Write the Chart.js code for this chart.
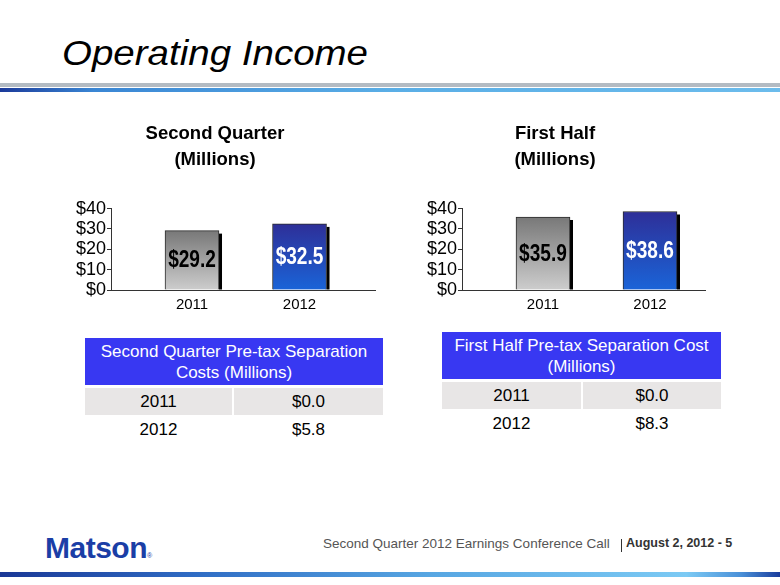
<!DOCTYPE html>
<html><head><meta charset="utf-8">
<script src="https://cdn.jsdelivr.net/npm/chart.js@4.4.0/dist/chart.umd.min.js"></script>
<style>
html,body{margin:0;padding:0;background:#fff;}
body{width:780px;height:585px;position:relative;overflow:hidden;font-family:'Liberation Sans',Arial,sans-serif;}
.abs{position:absolute;}
#title{left:62px;top:35px;font-size:35px;line-height:35px;font-style:italic;color:#000;transform:scaleX(1.1);transform-origin:0 0;white-space:nowrap;}
#grayline{left:0;top:83px;width:780px;height:4px;background:#b3bbc3;}
#blueline{left:0;top:88px;width:780px;height:4px;background:linear-gradient(to right,#1b3a9a 0%,#3a86d4 12%,#5aaee6 50%,#6cbcec 100%);}
#footline{left:0;top:572px;width:780px;height:5px;background:linear-gradient(to right,#1a3896 0%,#2f6cc4 25%,#57a6e2 55%,#7ccaf4 88%,#4a90d8 95%,#1a3c9c 100%);}
#logo{left:45px;top:533px;font-size:30px;line-height:30px;font-weight:bold;color:#1b3ea6;letter-spacing:-0.5px;white-space:nowrap;}
#logo sup{font-size:7px;font-weight:normal;vertical-align:baseline;position:relative;top:0;}
#foot1{left:323px;top:537px;font-size:13.5px;line-height:13.5px;color:#555;white-space:nowrap;}
#sep{left:621px;top:539px;width:1px;height:13px;background:#333;}
#foot2{left:626px;top:537px;font-size:12.5px;line-height:12.5px;font-weight:bold;color:#333;white-space:nowrap;}
canvas{position:absolute;}
.hdr{position:absolute;background:#3838f2;color:#fff;font-size:17px;line-height:21px;text-align:center;display:flex;align-items:center;justify-content:center;}
.cell{position:absolute;color:#000;font-size:17px;text-align:center;display:flex;align-items:center;justify-content:center;}
.gray{background:#e8e6e6;}
</style></head>
<body>
<div class="abs" id="title">Operating Income</div>
<div class="abs" id="grayline"></div>
<div class="abs" id="blueline"></div>
<canvas id="c1" width="335" height="205" style="left:55px;top:115px;width:335px;height:205px"></canvas>
<canvas id="c2" width="337" height="205" style="left:405px;top:115px;width:337px;height:205px"></canvas>
<div id="tables"></div>
<div class="abs" id="logo">Matson<sup>®</sup></div>
<div class="abs" id="foot1">Second Quarter 2012 Earnings Conference Call</div>
<div class="abs" id="sep"></div>
<div class="abs" id="foot2">August 2, 2012 - 5</div>
<div class="abs" id="footline"></div>
<script>
// ---- data ----
const years = ['2011', '2012'];
const quarterIncome = [29.2, 32.5];
const halfIncome = [35.9, 38.6];
const quarterTitle = ['Second Quarter', '(Millions)'];
const halfTitle = ['First Half', '(Millions)'];
const yTicks = [0, 10, 20, 30, 40];
const quarterSepHeader = ['Second Quarter Pre-tax Separation', 'Costs (Millions)'];
const halfSepHeader = ['First Half Pre-tax Separation Cost', '(Millions)'];
const quarterSep = [0.0, 5.8];
const halfSep = [0.0, 8.3];

// ---- styling ----
const FAM = "'Liberation Sans', Arial, sans-serif";
const barTop = ['#787878', '#2e2f98'];
const barBottom = ['#cdcdcd', '#1a64d8'];
const labelColor = ['#000000', '#ffffff'];

function makeChart(id, cats, vals, titleLines, xMin, xMax, yW, rightPad) {
  const barPlugin = {
    id: 'barDeco' + id,
    beforeDatasetsDraw(chart) {
      const ctx = chart.ctx;
      const meta = chart.getDatasetMeta(0);
      ctx.save();
      ctx.fillStyle = '#000';
      meta.data.forEach(bar => {
        const w = bar.width;
        ctx.fillRect(bar.x + w / 2, bar.y + 3, 3, bar.base - bar.y - 3);
      });
      ctx.restore();
    },
    afterDatasetsDraw(chart) {
      const ctx = chart.ctx;
      const meta = chart.getDatasetMeta(0);
      meta.data.forEach((bar, i) => {
        ctx.save();
        ctx.translate(bar.x, (bar.y + bar.base) / 2 + 1);
        ctx.scale(0.83, 1);
        ctx.font = "bold 23px " + FAM;
        ctx.textAlign = 'center';
        ctx.textBaseline = 'middle';
        ctx.fillStyle = labelColor[i];
        ctx.fillText('$' + vals[i].toFixed(1), 0, 0);
        ctx.restore();
      });
    }
  };
  return new Chart(document.getElementById(id), {
    type: 'bar',
    data: {
      datasets: [{
        data: vals.map((v, i) => ({x: i + 1, y: v})),
        barThickness: 54,
        borderColor: '#2a2a2a',
        borderWidth: 1,
        clip: 0,
        backgroundColor: (c) => {
          const chart = c.chart;
          const area = chart.chartArea;
          const i = c.dataIndex;
          if (!area || !chart.scales.y || i === undefined) return barBottom[i || 0];
          const y = chart.scales.y.getPixelForValue(vals[i]);
          const g = chart.ctx.createLinearGradient(0, y, 0, area.bottom);
          g.addColorStop(0, barTop[i]);
          g.addColorStop(1, barBottom[i]);
          return g;
        }
      }]
    },
    options: {
      responsive: false,
      animation: false,
      devicePixelRatio: 1,
      layout: {padding: {left: 0, right: rightPad, top: 0, bottom: 0}},
      plugins: {
        legend: {display: false},
        tooltip: {enabled: false},
        title: {display: true, text: titleLines, color: '#000',
          font: {family: FAM, size: 18.5, weight: 'bold', lineHeight: 1.45},
          padding: {top: 5, bottom: 35}}
      },
      scales: {
        x: {
          type: 'linear', min: xMin, max: xMax, offset: false,
          grid: {display: false, drawTicks: false},
          border: {display: true, color: '#333', width: 1},
          afterBuildTicks: (s) => { s.ticks = cats.map((c, i) => ({value: i + 1})); },
          afterFit: (s) => { s.height = 30; },
          ticks: {callback: (v) => cats[v - 1], color: '#000', font: {family: FAM, size: 15},
            padding: 6, maxRotation: 0, autoSkip: false}
        },
        y: {
          min: yTicks[0], max: yTicks[yTicks.length - 1],
          afterBuildTicks: (s) => { s.ticks = yTicks.map(v => ({value: v})); },
          ticks: {callback: (v) => '$' + v, color: '#000', font: {family: FAM, size: 18, lineHeight: 1},
            padding: 1, autoSkip: false},
          grid: {display: true, drawOnChartArea: false, drawTicks: true, tickLength: 4, color: '#333'},
          border: {display: true, color: '#333', width: 1},
          afterFit: (s) => { s.width = yW; }
        }
      }
    },
    plugins: [barPlugin]
  });
}

makeChart('c1', years, quarterIncome, quarterTitle, 0.2465, 2.702, 56, 15);
makeChart('c2', years, halfIncome, halfTitle, 0.243, 2.514, 57, 37);

// ---- tables ----
function makeTable(header, vals, L) {
  const root = document.getElementById('tables');
  const h = document.createElement('div');
  h.className = 'hdr';
  Object.assign(h.style, {left: L.x + 'px', top: L.hy + 'px', width: L.w + 'px', height: L.hh + 'px'});
  h.innerHTML = header.join('<br>');
  root.appendChild(h);
  years.forEach((yr, r) => {
    const top = L.rows[r], hgt = L.rowH[r];
    const c1 = document.createElement('div');
    c1.className = 'cell' + (r === 0 ? ' gray' : '');
    Object.assign(c1.style, {left: L.x + 'px', top: top + 'px', width: (L.split - L.x - 1) + 'px', height: hgt + 'px'});
    c1.textContent = yr;
    const c2 = document.createElement('div');
    c2.className = 'cell' + (r === 0 ? ' gray' : '');
    Object.assign(c2.style, {left: (L.split + 1) + 'px', top: top + 'px', width: (L.x + L.w - L.split - 1) + 'px', height: hgt + 'px'});
    c2.textContent = '$' + vals[r].toFixed(1);
    root.appendChild(c1); root.appendChild(c2);
  });
}
makeTable(quarterSepHeader, quarterSep, {x: 85, w: 298, hy: 338, hh: 47, split: 233, rows: [388, 415], rowH: [27, 30]});
makeTable(halfSepHeader, halfSep, {x: 442, w: 279, hy: 332, hh: 47, split: 582, rows: [382, 409], rowH: [27, 30]});
</script>
</body></html>
